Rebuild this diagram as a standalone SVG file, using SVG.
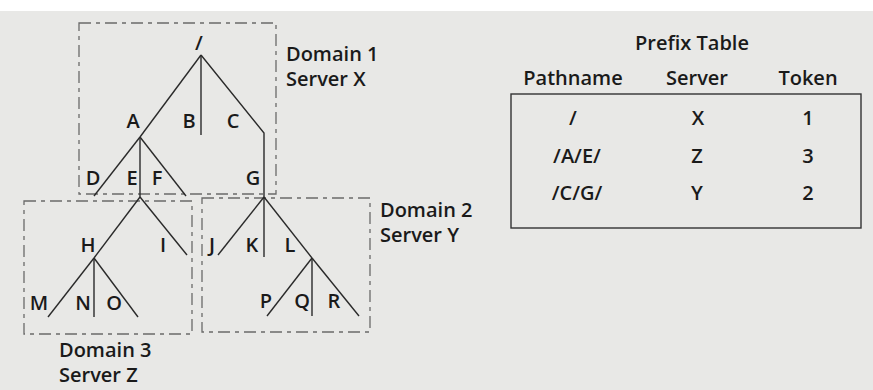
<svg xmlns="http://www.w3.org/2000/svg" width="873" height="390" viewBox="0 0 873 390">
<style>
.t{font-family:"Open Sans","Liberation Sans",sans-serif;font-size:20px;font-weight:600;fill:#1a1a1a;text-anchor:middle}
.l{text-anchor:start}
.c line,.c polyline{stroke:#2a2a2a;stroke-width:1.4;fill:none}
.dom{fill:none;stroke:#6a6a6a;stroke-width:1.3;stroke-dasharray:12 5 4 5}
</style>
<rect x="0" y="0" width="873" height="390" fill="#e8e8e6"/>
<rect x="0" y="0" width="873" height="11" fill="#fff"/>
<g id="domain1"><rect class="dom" x="79" y="23" width="197" height="171"/><text class="t l" x="286" y="61">Domain 1</text><text class="t l" x="286" y="86">Server X</text></g>
<g id="domain3"><rect class="dom" x="24" y="201" width="168" height="133"/><text class="t l" x="59" y="357">Domain 3</text><text class="t l" x="59" y="382">Server Z</text></g>
<g id="domain2"><rect class="dom" x="202" y="198" width="168" height="134"/><text class="t l" x="380" y="217">Domain 2</text><text class="t l" x="380" y="242">Server Y</text></g>
<g class="c" id="connectors">
<line x1="201" y1="55" x2="140" y2="137"/>
<line x1="201" y1="55" x2="201" y2="135"/>
<polyline points="201,55 264,133 264,197"/>
<line x1="140" y1="137" x2="94" y2="196"/>
<line x1="140" y1="137" x2="140" y2="197"/>
<line x1="140" y1="137" x2="186" y2="196"/>
<line x1="140" y1="197" x2="94" y2="258"/>
<line x1="140" y1="197" x2="187" y2="255"/>
<line x1="94" y1="258" x2="48" y2="317"/>
<line x1="94" y1="258" x2="94" y2="317"/>
<line x1="94" y1="258" x2="138" y2="317"/>
<line x1="264" y1="197" x2="218" y2="255"/>
<line x1="264" y1="197" x2="264" y2="257"/>
<line x1="264" y1="197" x2="312" y2="258"/>
<line x1="312" y1="258" x2="267" y2="316"/>
<line x1="312" y1="258" x2="312" y2="316"/>
<line x1="312" y1="258" x2="359" y2="316"/>
</g>
<g id="root"><text class="t" x="199" y="50">/</text></g>
<g id="A"><text class="t" x="133" y="128">A</text></g>
<g id="B"><text class="t" x="189" y="128">B</text></g>
<g id="C"><text class="t" x="233" y="128">C</text></g>
<g id="D"><text class="t" x="93" y="185">D</text></g>
<g id="E"><text class="t" x="132" y="185">E</text></g>
<g id="F"><text class="t" x="157" y="185">F</text></g>
<g id="G"><text class="t" x="253" y="185">G</text></g>
<g id="H"><text class="t" x="88" y="252">H</text></g>
<g id="I"><text class="t" x="163" y="252">I</text></g>
<g id="J"><text class="t" x="212" y="252">J</text></g>
<g id="K"><text class="t" x="252" y="252">K</text></g>
<g id="L"><text class="t" x="290" y="252">L</text></g>
<g id="M"><text class="t" x="39" y="310">M</text></g>
<g id="N"><text class="t" x="83" y="310">N</text></g>
<g id="O"><text class="t" x="114" y="310">O</text></g>
<g id="P"><text class="t" x="266" y="308">P</text></g>
<g id="Q"><text class="t" x="302" y="308">Q</text></g>
<g id="R"><text class="t" x="334" y="308">R</text></g>
<g id="prefix-table">
<text class="t" x="692" y="50">Prefix Table</text>
<text class="t" x="573" y="85">Pathname</text>
<text class="t" x="697" y="85">Server</text>
<text class="t" x="808" y="85">Token</text>
<rect x="511" y="94" width="350" height="134" fill="none" stroke="#333" stroke-width="1.4"/>
<text class="t" x="573" y="125">/</text><text class="t" x="698" y="125">X</text><text class="t" x="808" y="125">1</text>
<text class="t" x="577" y="163">/A/E/</text><text class="t" x="697" y="163">Z</text><text class="t" x="808" y="163">3</text>
<text class="t" x="577" y="200">/C/G/</text><text class="t" x="697" y="200">Y</text><text class="t" x="808" y="200">2</text>
</g>
</svg>
